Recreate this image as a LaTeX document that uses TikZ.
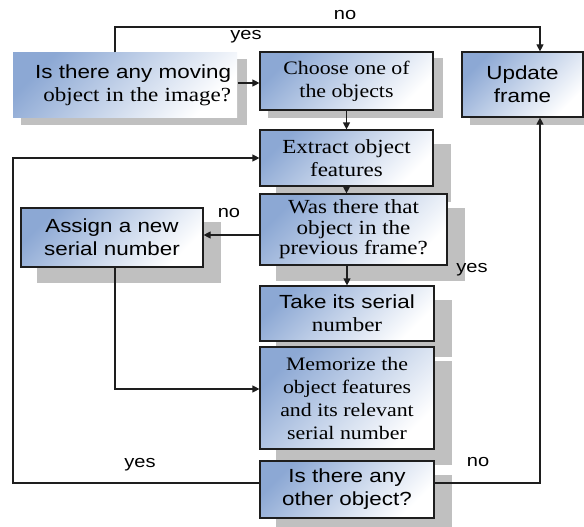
\documentclass[tikz,border=0pt]{standalone}
\usepackage{fontspec}
\setmainfont{Liberation Serif}
\newfontfamily\sansface{Liberation Sans}[FakeStretch=1.18]
\newfontfamily\serifface{Liberation Serif}[FakeStretch=1.15]
\usetikzlibrary{arrows.meta,backgrounds}
\definecolor{boxblue}{RGB}{140,168,212}
\definecolor{boxmid}{RGB}{198,212,234}
\definecolor{shadowgray}{RGB}{192,192,192}
\definecolor{inkline}{RGB}{30,30,30}

\begin{document}
\begin{tikzpicture}[x=1pt,y=1pt,
  box/.style={draw=inkline, line width=1.2pt,
    top color=boxblue, bottom color=white, middle color=boxmid, shading angle=45,
    inner sep=0pt, align=center, font=\fontsize{19}{23}\selectfont},
  conn/.style={draw=inkline, line width=1.2pt},
  arr/.style={conn, -{Triangle[length=7pt,width=7pt]}},
  lbl/.style={font=\sansface\fontsize{17}{20}\selectfont, inner sep=0pt}
]
% canvas: 584 x 527, origin at the top-left corner, y growing downwards as negative values
\useasboundingbox (0,0) rectangle (584,-527);

% top row
\node[box, draw=none, minimum width=224pt, minimum height=64pt,
      text width=212pt, inner xsep=6pt, align=right] (q1) at (125,-85)
  {{\sansface Is there any moving}\\{\serifface\fontsize{20}{23}\selectfont object in the image?}};
\node[box, minimum width=173pt, minimum height=58pt] (choose) at (346.5,-81)
  {{\serifface Choose one of}\\{\serifface the objects}};
\node[box, minimum width=121pt, minimum height=65pt] (update) at (522.5,-84.5)
  {{\sansface Update}\\{\sansface frame}};

% middle column
\node[box, minimum width=173pt, minimum height=56pt,
      font=\fontsize{20}{23}\selectfont] (extract) at (346.5,-158)
  {{\serifface Extract object}\\{\serifface features}};
\node[box, minimum width=187pt, minimum height=71pt,
      font=\fontsize{20}{20.5}\selectfont] (was) at (353.5,-229.5)
  {{\serifface Was there that}\\{\serifface object in the}\\{\serifface previous frame?}};
\node[box, minimum width=182pt, minimum height=59pt] (assign) at (112,-237.5)
  {{\sansface Assign a new}\\{\sansface serial number}};
\node[box, minimum width=174pt, minimum height=55pt] (take) at (347,-313.5)
  {{\sansface Take its serial}\\{\serifface\fontsize{20}{23}\selectfont number}};
\node[box, minimum width=174pt, minimum height=102pt] (memo) at (347,-398)
  {{\serifface Memorize the}\\{\serifface object features}\\{\serifface and its relevant}\\{\serifface serial number}};
\node[box, minimum width=174pt, minimum height=57pt] (other) at (347,-489.5)
  {{\sansface Is there any}\\{\sansface other object?}};

% white sheet and offset grey shadows behind the boxes
\begin{scope}[on background layer]
  \fill[white] (0,0) rectangle (584,-527);
  \foreach \n in {q1,choose,update}
    \fill[shadowgray] ([xshift=9pt,yshift=-7pt]\n.south west)
                      rectangle ([xshift=9pt,yshift=-7pt]\n.north east);
  \foreach \n in {extract,was,assign,take,memo,other}
    \fill[shadowgray] ([xshift=17pt,yshift=-15pt]\n.south west)
                      rectangle ([xshift=17pt,yshift=-15pt]\n.north east);
\end{scope}

% helper coordinates for the loop-back connectors
\coordinate (toprail) at (0,-27);
\coordinate (leftrail) at (13,0);
\coordinate (q1out) at ([xshift=-10pt]q1.north);
\coordinate (updin) at ([xshift=17.5pt]update.north);
\coordinate (updout) at ([xshift=17.5pt]update.south);
\coordinate (otherw) at ([yshift=6.5pt]other.west);
\coordinate (othere) at ([yshift=6.5pt]other.east);

% connectors
\draw[arr] (q1.east |- 0,-83) -- (choose.west |- 0,-83);
\draw[arr] (q1out) -- (q1out |- toprail) -| (updin);
\draw[arr] (choose) -- (extract);
\draw[arr] (extract.south) -- (extract.south |- was.north);
\draw[arr] (was.west |- 0,-235) -- (assign.east |- 0,-235);
\draw[arr] (take.north |- was.south) -- (take.north);
\draw[arr] ([xshift=3pt]assign.south) |- ([yshift=9pt]memo.west);
\draw[arr] (otherw) -| (leftrail |- extract.west) -- (extract.west);
\draw[arr] (othere) -| (updout);

% branch labels
\node[lbl] (lno1) at (345,-15) {no};
\node[lbl] (lyes1) at (246,-37) {yes};
\node[lbl] (lno2) at (229,-213) {no};
\node[lbl] (lyes2) at (472,-270) {yes};
\node[lbl] (lyes3) at (140,-465) {yes};
\node[lbl] (lno3) at (478,-462) {no};
\end{tikzpicture}
\end{document}
